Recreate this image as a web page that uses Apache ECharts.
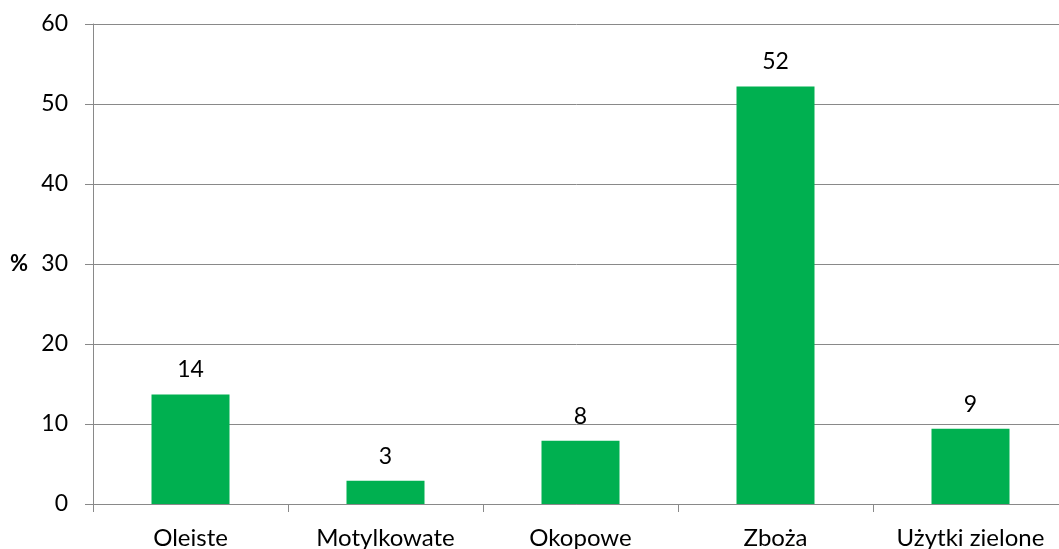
<!DOCTYPE html>
<html>
<head>
<meta charset="utf-8">
<script src="https://cdn.jsdelivr.net/npm/echarts@6/dist/echarts.min.js"></script>
<style>
  html, body { margin: 0; padding: 0; background: #fff; }
  #chart { width: 1059px; height: 549px; }
</style>
</head>
<body>
<div id="chart"></div>
<script>
// Udział grup upraw (%)
const categories = ['Oleiste', 'Motylkowate', 'Okopowe', 'Zboża', 'Użytki zielone'];
const shares = [13.7, 2.9, 7.9, 52.2, 9.4];

const FONT = 'Lato, "Open Sans", sans-serif';
const GRID_COLOR = '#898989';

const chart = echarts.init(document.getElementById('chart'));
chart.setOption({
  animation: false,
  backgroundColor: '#ffffff',
  grid: { left: 93, top: 24, width: 975, height: 480, outerBoundsMode: 'none', containLabel: false },
  xAxis: {
    type: 'category',
    data: categories,
    axisLine: { lineStyle: { color: GRID_COLOR, width: 1 } },
    axisTick: { show: true, length: 8, lineStyle: { color: GRID_COLOR } },
    axisLabel: { color: '#000', fontSize: 24, fontFamily: FONT, margin: 22 }
  },
  yAxis: {
    type: 'value',
    min: 0, max: 60, interval: 10,
    name: '%',
    nameLocation: 'middle',
    nameRotate: 0,
    nameGap: 65,
    nameMoveOverlap: false,
    nameTextStyle: { color: '#000', fontSize: 22, fontWeight: 'bold', fontFamily: FONT },
    axisLine: { show: true, lineStyle: { color: GRID_COLOR, width: 1 } },
    axisTick: { show: true, length: 8, lineStyle: { color: GRID_COLOR } },
    axisLabel: { color: '#000', fontSize: 23, fontFamily: FONT, margin: 25 },
    splitLine: { show: true, lineStyle: { color: GRID_COLOR, width: 1 } }
  },
  series: [{
    type: 'bar',
    data: shares,
    barCategoryGap: '60%',
    itemStyle: { color: '#00B050' },
    label: {
      show: true,
      position: 'top',
      distance: 13,
      color: '#000',
      fontSize: 23,
      fontFamily: FONT,
      formatter: p => Math.round(p.value).toString()
    }
  }]
});
</script>
</body>
</html>
